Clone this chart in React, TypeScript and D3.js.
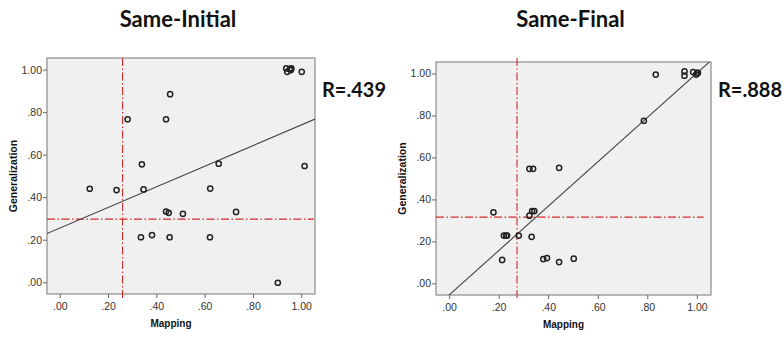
import * as d3 from 'd3';

// Same-Initial panel
const initialX = [0.122, 0.233, 0.279, 0.338, 0.345, 0.334, 0.38, 0.438, 0.455, 0.438, 0.449, 0.453, 0.508, 0.621, 0.656, 0.62, 0.728, 0.901, 0.936, 0.94, 0.951, 0.957, 0.955, 1.0, 1.012];
const initialY = [0.442, 0.436, 0.769, 0.557, 0.439, 0.214, 0.224, 0.769, 0.887, 0.335, 0.329, 0.214, 0.324, 0.443, 0.56, 0.214, 0.333, 0.0, 1.008, 0.992, 1.005, 1.008, 1.0, 0.992, 0.549];
const initialFit = [0.258, 0.485]; // intercept, slope
const initialRef = [0.258, 0.299]; // vertical x, horizontal y

// Same-Final panel
const finalX = [0.177, 0.212, 0.219, 0.228, 0.232, 0.279, 0.322, 0.337, 0.322, 0.333, 0.342, 0.331, 0.378, 0.393, 0.442, 0.442, 0.501, 0.784, 0.832, 0.948, 0.948, 0.983, 0.995, 0.999, 1.002];
const finalY = [0.341, 0.114, 0.23, 0.23, 0.23, 0.23, 0.548, 0.548, 0.325, 0.347, 0.347, 0.224, 0.118, 0.123, 0.553, 0.104, 0.12, 0.777, 0.997, 1.012, 0.992, 1.009, 0.997, 1.005, 1.005];
const finalFit = [-0.051, 1.057];
const finalRef = [0.272, 0.318];

const tickValues = [0, 0.2, 0.4, 0.6, 0.8, 1.0];
const fmt = (v: number) => (v >= 1 ? '1.00' : d3.format('.2f')(v).replace(/^0/, ''));

interface PanelProps {
  id: string;
  title: string;
  rLabel: string;
  xs: number[];
  ys: number[];
  fit: number[];
  refLines: number[];
  left: number;
  top: number;
  width: number;
  height: number;
  hEnd: number;
  vTop: number;
}

function Panel({ id, title, rLabel, xs, ys, fit, refLines, left, top, width, height, hEnd, vTop }: PanelProps) {
  const x = d3.scaleLinear().domain([-0.055, 1.055]).range([left, left + width]);
  const y = d3.scaleLinear().domain([-0.053, 1.057]).range([top + height, top]);
  const [x0, x1] = x.domain();
  const line = d3
    .line<number>()
    .x((d) => x(d))
    .y((d) => y(fit[0] + fit[1] * d));
  const red = '#d42a2a';
  const dash = '8,2.5,1.5,2.5';
  const tickFont = { fontFamily: "'Liberation Sans', Arial, sans-serif", fontSize: 10.5, fill: '#333' };

  return (
    <g>
      <defs>
        <clipPath id={`clip-${id}`}>
          <rect x={left} y={top} width={width} height={height} />
        </clipPath>
      </defs>
      <text
        x={left + width / 2 - 3}
        y={27}
        textAnchor="middle"
        style={{ fontFamily: 'Lato, sans-serif', fontWeight: 700, fontSize: 22, fill: '#111' }}
      >
        {title}
      </text>
      <rect x={left} y={top} width={width} height={height} fill="#f0f0f0" stroke="#8a8a8a" strokeWidth={1.2} />

      {/* reference lines */}
      <line
        x1={x(refLines[0])}
        x2={x(refLines[0])}
        y1={top - vTop}
        y2={top + height + 5}
        stroke={red}
        strokeWidth={1.1}
        strokeDasharray={dash}
      />
      <line
        x1={left}
        x2={x(hEnd)}
        y1={y(refLines[1])}
        y2={y(refLines[1])}
        stroke={red}
        strokeWidth={1.1}
        strokeDasharray={dash}
      />

      {/* fit line */}
      <path
        d={line([x0, x1]) ?? ''}
        fill="none"
        stroke="#444"
        strokeWidth={1.1}
        clipPath={`url(#clip-${id})`}
      />

      {xs.map((v, i) => (
        <circle key={i} cx={x(v)} cy={y(ys[i])} r={2.6} fill="none" stroke="#222" strokeWidth={1.5} />
      ))}

      {/* axes */}
      {tickValues.map((t) => (
        <g key={`x${t}`}>
          <line x1={x(t)} x2={x(t)} y1={top + height} y2={top + height + 4} stroke="#666" />
          <text x={x(t)} y={top + height + 16} textAnchor="middle" style={tickFont}>
            {fmt(t)}
          </text>
        </g>
      ))}
      {tickValues.map((t) => (
        <g key={`y${t}`}>
          <line x1={left - 4} x2={left} y1={y(t)} y2={y(t)} stroke="#666" />
          <text x={left - 5} y={y(t) + 3.5} textAnchor="end" style={tickFont}>
            {fmt(t)}
          </text>
        </g>
      ))}
      <text
        x={left + width / 2 - 10}
        y={top + height + 33}
        textAnchor="middle"
        style={{ ...tickFont, fontSize: 10, fill: '#111', fontWeight: 700 }}
      >
        Mapping
      </text>
      <text
        transform={`translate(${left - 30},${top + height / 2}) rotate(-90)`}
        textAnchor="middle"
        style={{ ...tickFont, fontSize: 10.5, fill: '#111', fontWeight: 700 }}
      >
        Generalization
      </text>
      <text
        x={left + width + 7}
        y={97}
        style={{ fontFamily: 'Lato, sans-serif', fontWeight: 700, fontSize: 20, fill: '#111' }}
      >
        {rLabel}
      </text>
    </g>
  );
}

export default function App() {
  return (
    <svg width={783} height={339} style={{ position: 'absolute', left: 0, top: 0, background: '#fff' }}>
      <Panel
        id="initial"
        title="Same-Initial"
        rLabel="R=.439"
        xs={initialX}
        ys={initialY}
        fit={initialFit}
        refLines={initialRef}
        left={47}
        top={58}
        width={268}
        height={236}
        hEnd={1.05}
        vTop={0}
      />
      <Panel
        id="final"
        title="Same-Final"
        rLabel="R=.888"
        xs={finalX}
        ys={finalY}
        fit={finalFit}
        refLines={finalRef}
        left={436}
        top={62}
        width={275}
        height={233}
        hEnd={1.025}
        vTop={4}
      />
    </svg>
  );
}
